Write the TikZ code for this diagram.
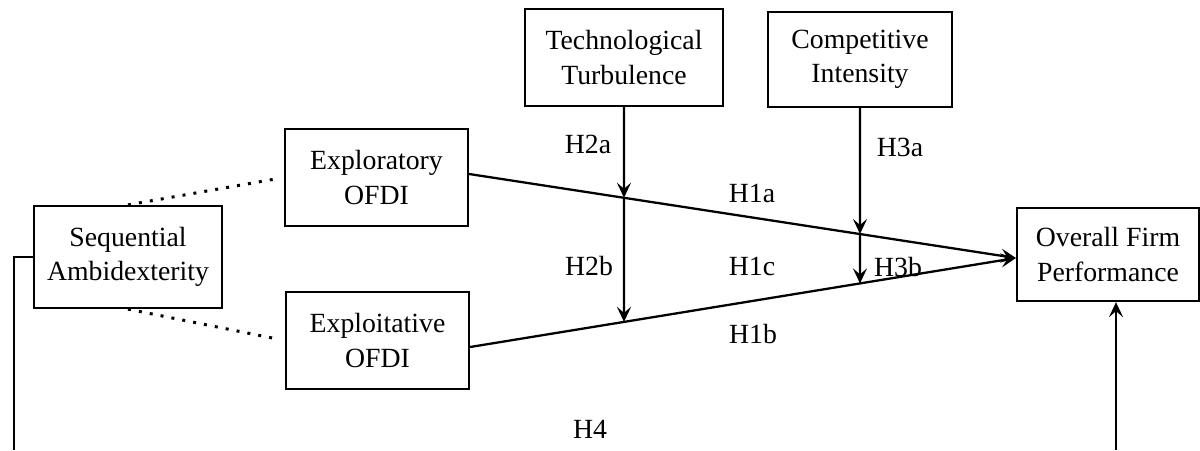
\documentclass[tikz,border=0pt]{standalone}
\usepackage{fontspec}
\setmainfont{Liberation Serif}
\usetikzlibrary{arrows.meta}
\tikzset{
	factor/.style={draw, line width=1.3pt, align=center, inner sep=2pt, minimum width=3.66cm, minimum height=1.94cm},
	effect/.style={line width=1.3pt, -{Stealth[length=3mm, width=2.8mm, inset=1.2mm]}},
	plain/.style={line width=1.3pt},
	tie/.style={line width=1.7pt, dash pattern=on 1.7pt off 4.6pt, shorten >=0.16cm},
	hyp/.style={inner sep=0pt}
}

\begin{document}
\begin{tikzpicture}[x=0.02cm, y=-0.02cm, font=\fontsize{15.8}{19.4}\selectfont]
	\useasboundingbox (0,0) rectangle (1200,450);
	
	\node[factor, minimum width=3.76cm, minimum height=2.04cm](seq) at (128,257){Sequential\\Ambidexterity};
	\node[factor](explore) at (376.5,177.5){Exploratory\\OFDI};
	\node[factor](exploit) at (377.5,340.5){Exploitative\\OFDI};
	\node[factor, minimum width=3.96cm](tech) at (624,57.5){Technological\\Turbulence};
	\node[factor, minimum width=3.68cm, minimum height=1.9cm](comp) at (860,59.5){Competitive\\Intensity};
	\node[factor, minimum width=3.64cm, minimum height=1.86cm](perf) at (1108,254.5){Overall Firm\\Performance};
	
	\coordinate (xr_out) at ([yshift=0.07cm]explore.east);
	\coordinate (xl_out) at ([yshift=-0.13cm]exploit.east);
	\coordinate (perf_in) at ([yshift=-0.07cm]perf.west);
	\coordinate (tech_a) at (intersection of xr_out--perf_in and tech.south--tech.center);
	\coordinate (tech_b) at (intersection of xl_out--perf_in and tech.south--tech.center);
	\coordinate (comp_a) at (intersection of xr_out--perf_in and comp.south--comp.center);
	\coordinate (comp_b) at (intersection of xl_out--perf_in and comp.south--comp.center);
	\coordinate (h4_left) at (14,450);
	\coordinate (h4_right) at (1116,450);
	
	\draw[tie](seq.north) -- (explore.west);
	\draw[tie](seq.south) -- (exploit.west);
	
	\draw[effect](xr_out) -- (perf_in);
	\draw[effect](xl_out) -- (perf_in);
	
	\draw[effect](tech.south) -- (tech_a);
	\draw[effect](tech_a) -- (tech_b);
	\draw[effect](comp.south) -- (comp_a);
	\draw[effect](comp_a) -- (comp_b);
	
	\draw[plain](seq.west) -| (h4_left);
	\draw[effect](h4_right) -- (h4_right |- perf.south);
	
	\node[hyp](h2a) at (588,144){H2a};
	\node[hyp](h2b) at (589,266){H2b};
	\node[hyp](h1a) at (752,193){H1a};
	\node[hyp](h1c) at (752,266){H1c};
	\node[hyp](h1b) at (753,334){H1b};
	\node[hyp](h3a) at (900,147){H3a};
	\node[hyp](h3b) at (898,267){H3b};
	\node[hyp](h4) at (590,429){H4};
\end{tikzpicture}
\end{document}
